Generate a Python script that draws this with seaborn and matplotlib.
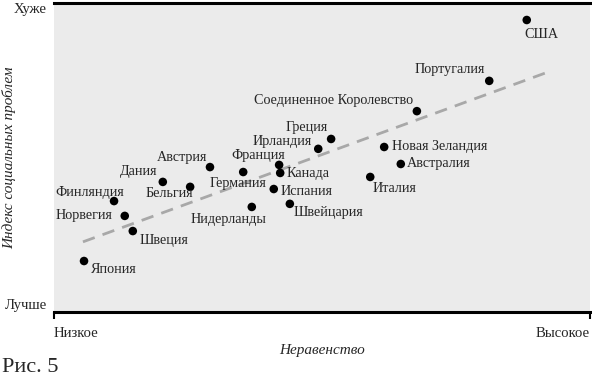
import numpy as np
import pandas as pd
import seaborn as sns
import matplotlib.pyplot as plt

sns.set_style('white')
plt.rcParams['font.family'] = ['Liberation Serif', 'DejaVu Serif']

# Data (0-100 relative scales)
countries = ['США', 'Португалия', 'Соединенное Королевство', 'Греция', 'Ирландия',
             'Франция', 'Канада', 'Испания', 'Швейцария', 'Новая Зеландия',
             'Австралия', 'Италия', 'Австрия', 'Германия', 'Дания', 'Бельгия',
             'Нидерланды', 'Финляндия', 'Норвегия', 'Швеция', 'Япония']
inequality = [88.2, 81.2, 67.7, 51.7, 49.3, 42.0, 42.2, 41.0, 44.0, 61.6,
              64.7, 59.0, 29.1, 35.3, 20.3, 25.4, 36.9, 11.2, 13.2, 14.7, 5.6]
social_index = [94.5, 74.8, 65.0, 56.0, 52.8, 47.6, 45.0, 39.8, 35.0, 53.4,
                47.9, 43.7, 46.9, 45.3, 42.1, 40.5, 34.0, 35.9, 31.1, 26.2, 16.5]
trend_x = [5.4, 91.6]
trend_y = [22.7, 77.3]

df = pd.DataFrame({'country': countries, 'x': inequality, 'y': social_index})

# label placement: (dx px, dy px, ha)
label_pos = {
    'США': (-2, -15, 'left'),
    'Португалия': (-4, 11, 'right'),
    'Соединенное Королевство': (-4, 11, 'right'),
    'Греция': (-3, 11, 'right'),
    'Ирландия': (-6, 7, 'right'),
    'Франция': (6, 9, 'right'),
    'Канада': (6, -1, 'left'),
    'Испания': (7, -2, 'left'),
    'Швейцария': (4, -9, 'left'),
    'Новая Зеландия': (8, 0, 'left'),
    'Австралия': (6, 0, 'left'),
    'Италия': (2, -12, 'left'),
    'Австрия': (-3, 10, 'right'),
    'Германия': (-5, -11, 'center'),
    'Дания': (-5, 10, 'right'),
    'Бельгия': (3, -7, 'right'),
    'Нидерланды': (15, -13, 'right'),
    'Финляндия': (10, 9, 'right'),
    'Норвегия': (-12, 0, 'right'),
    'Швеция': (7, -9, 'left'),
    'Япония': (7, -8, 'left'),
}

fig = plt.figure(figsize=(5.92, 3.85), dpi=100)
ax = fig.add_axes([54 / 592, 1 - 312 / 385, 536 / 592, 309 / 385])
ax.set_facecolor('#ebebeb')

ax.plot(trend_x, trend_y, color='#a8a8a8', lw=2, dashes=(4.5, 3), zorder=1)
sns.scatterplot(data=df, x='x', y='y', color='black', s=38, edgecolor='none',
                ax=ax, zorder=3)

for _, row in df.iterrows():
    dx, dy, ha = label_pos[row['country']]
    ax.annotate(row['country'], (row['x'], row['y']), xytext=(dx, dy),
                textcoords='offset pixels', ha=ha, va='center', fontsize=10.2)

ax.set_xlim(0, 100)
ax.set_ylim(0, 100)

for side in ['left', 'right']:
    ax.spines[side].set_visible(False)
ax.spines['top'].set_linewidth(2.2)
ax.spines['bottom'].set_linewidth(2.2)
ax.spines['top'].set_color('black')
ax.spines['bottom'].set_color('black')

ax.set_xticks([0, 100])
ax.set_xticklabels(['Низкое', 'Высокое'], fontsize=10.6)
xl = ax.get_xticklabels()
xl[0].set_ha('left')
xl[1].set_ha('right')
ax.tick_params(axis='x', direction='out', length=5, width=1.5, pad=6, color='black',
               bottom=True)

ax.set_yticks([0, 100])
ax.set_yticklabels(['Лучше', 'Хуже'], fontsize=10.6)
yl = ax.get_yticklabels()
yl[0].set_va('bottom')
yl[1].set_va('top')
ax.tick_params(axis='y', length=0, pad=5, left=False)

ax.set_xlabel('Неравенство', fontsize=11, style='italic', labelpad=3)
ax.set_ylabel('Индекс социальных проблем', fontsize=11, style='italic', labelpad=-8)

fig.text(0.003, 0.02, 'Рис. 5', fontsize=16, ha='left', va='bottom')

fig.savefig('out.png', dpi=100)
plt.close(fig)
